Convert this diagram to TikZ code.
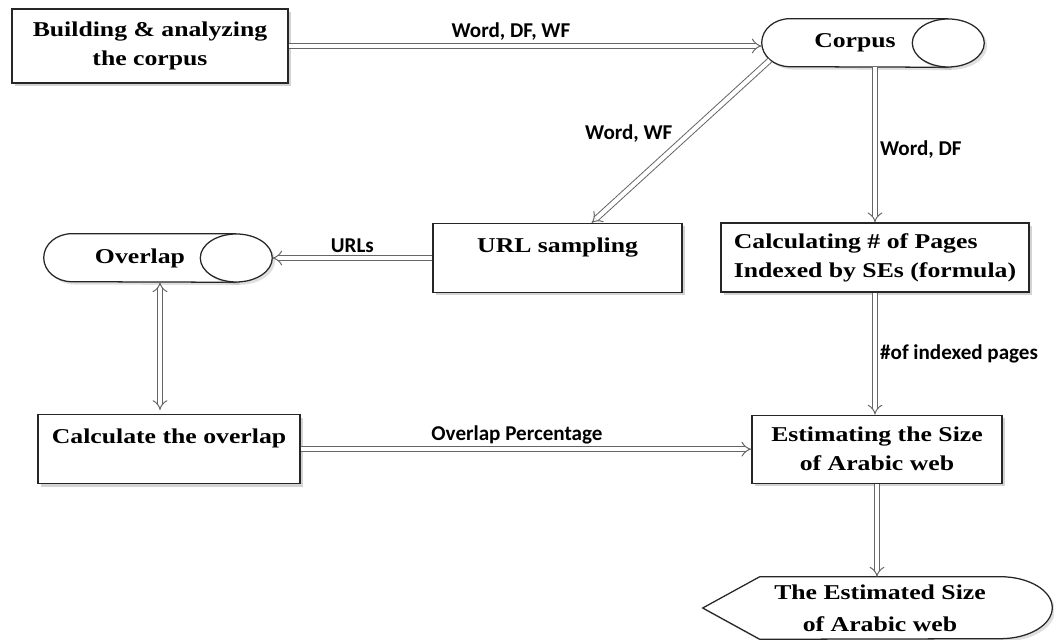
\documentclass[tikz,border=0pt]{standalone}
\usepackage{fontspec}
\setmainfont{Liberation Serif}[FakeStretch=1.22]
\newfontfamily\labelfont{Carlito}
\usepackage{tikz}
\usetikzlibrary{arrows.meta, positioning, shadows, backgrounds, calc}

\begin{document}
\begin{tikzpicture}[
  box/.style={draw=black!85, line width=0.9pt, fill=white, align=center, inner sep=2pt,
              font=\bfseries\fontsize{15}{20.6}\selectfont,
              drop shadow={shadow xshift=2pt, shadow yshift=-2pt, opacity=0.35}},
  store/.style={inner sep=0pt, align=center, font=\bfseries\fontsize{15}{20.6}\selectfont},
  outline/.style={draw=black!85, line width=0.9pt, fill=white,
                  drop shadow={shadow xshift=2pt, shadow yshift=-2pt, opacity=0.25}},
  tip/.tip={Implies[length=5pt, width=11pt]},
  arr/.style={draw=black!60, line width=0.7pt, double=white, double distance=3pt, -tip},
  lbl/.style={font=\labelfont\bfseries\fontsize{15}{18}\selectfont},
]
  \useasboundingbox (0,0) rectangle (26.35,16);

  % top row
  \node[box, minimum width=6.9cm, minimum height=1.85cm] (build) at (3.75, 14.85)
       {Building \& analyzing\\the corpus};
  \node[store, minimum width=4.65cm, minimum height=1.2cm] (corpus) at (21.375, 14.925) {Corpus};

  % middle row
  \node[store, minimum width=4.8cm, minimum height=1.2cm] (overlap) at (3.5, 9.55) {Overlap};
  \node[box, minimum width=6.225cm, minimum height=1.725cm] (urls) at (13.94, 9.55)
       {URL sampling\\[-2pt]~};
  \node[box, align=left, minimum width=7.7cm, minimum height=1.725cm] (pages) at (21.875, 9.5625)
       {Calculating \# of Pages\\Indexed by SEs (formula)};

  % bottom row
  \node[box, minimum width=6.55cm, minimum height=1.725cm] (calc) at (4.225, 4.77)
       {Calculate the overlap\\[-2pt]~};
  \node[box, minimum width=6.25cm, minimum height=1.7cm] (estim) at (21.925, 4.77)
       {Estimating the Size\\of Arabic web};
  \node[store, minimum width=6cm, minimum height=1.5cm] (result) at (22.0, 0.8)
       {The Estimated Size\\[2pt]of Arabic web};

  % outlines of the stores and the display
  \begin{scope}[on background layer]
    \draw[outline] (corpus.north east) -- ([xshift=0.7cm]corpus.north west)
      arc[start angle=90, end angle=270, x radius=0.7cm, y radius=0.6cm] -- (corpus.south east);
    \draw[outline] (corpus.east) ellipse[x radius=0.9cm, y radius=0.6cm];
    \draw[outline] (overlap.north east) -- ([xshift=0.7cm]overlap.north west)
      arc[start angle=90, end angle=270, x radius=0.7cm, y radius=0.6cm] -- (overlap.south east);
    \draw[outline] (overlap.east) ellipse[x radius=0.9cm, y radius=0.6cm];
    \draw[outline] ([yshift=0.025cm]result.north west) -- ([yshift=0.025cm]result.north east)
      arc[start angle=90, end angle=-90, x radius=1.3cm, y radius=0.775cm]
      -- ([yshift=-0.025cm]result.south west) -- ([xshift=-1.425cm]result.west) -- cycle;
  \end{scope}

  % Connections
  \draw[arr] (build.east) -- (build.east -| corpus.west)
       node[lbl, above, pos=0.47] {Word, DF, WF};
  \draw[arr] ([xshift=0.2cm, yshift=0.175cm]corpus.south west) -- ([xshift=0.85cm]urls.north)
       node[lbl, pos=0.45, left=0.3cm] {Word, WF};
  \draw[arr] (pages.north |- corpus.south) -- (pages.north)
       node[lbl, pos=0.53, right] {Word, DF};
  \draw[arr] (pages.south) -- (pages.south |- estim.north)
       node[lbl, midway, right] {\#of indexed pages};
  \draw[arr] (estim.south) -- ($(estim.south |- result.north)+(0,0.025)$);
  \draw[arr] (urls.west) -- ([xshift=0.9cm]overlap.east)
       node[lbl, midway, above] {URLs};
  \draw[arr, tip-tip] ($(overlap.south)+(0.5,0)$) -- ($(overlap.south |- calc.north)+(0.5,0.1)$);
  \draw[arr] (calc.east) -- (estim.west)
       node[lbl, pos=0.48, above] {Overlap Percentage};
\end{tikzpicture}
\end{document}
